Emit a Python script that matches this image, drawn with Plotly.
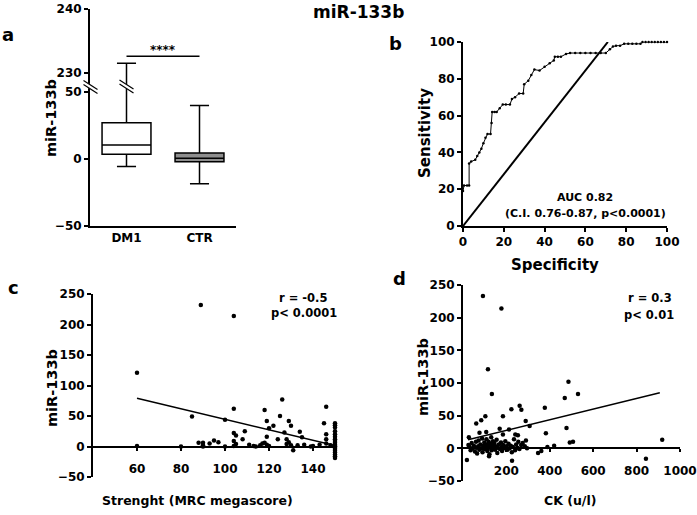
import plotly.graph_objects as go

W, H = 697, 515
FONT = "DejaVu Sans"

# ---------------- data ----------------
# panel a: box statistics (miR-133b)
a_cats = ["DM1", "CTR"]
dm1_stats = dict(lo=-5.5, q1=3.5, med=10.5, q3=27.0, hi=231.5)
ctr_stats = dict(lo=-18.5, q1=-2.0, med=0.5, q3=4.5, hi=40.0)

# panel b: ROC curve
roc_spec = [0, 0.5, 2, 3, 3, 4, 6, 7, 8, 9, 10, 11, 12, 13.5, 14, 14.3, 15.5, 16.5, 18, 19.5, 21,
            23, 24, 25.5, 27.5, 29.5, 30, 32, 33.5, 35, 37.5, 40, 42.5, 44.5, 45, 46.5, 48, 50.5,
            52.5, 55, 57.5, 60, 62.5, 65, 67.5, 70, 72, 73.5, 75, 77, 79, 81, 83, 85, 87, 88,
            89.5, 91, 92.5, 94, 95.5, 97, 98.5, 100]
roc_sens = [19, 22, 22, 22, 34, 35, 36, 38, 40, 42, 45, 48, 50, 50, 56, 62, 62, 62, 64, 66, 66,
            66, 69, 70, 72, 72, 77, 79, 82, 85, 84.5, 86.5, 88.5, 90, 92, 92, 92, 93.5,
            94, 94, 94, 94, 94, 94, 94, 94, 96, 97.5, 98, 98, 99, 99, 99, 99, 99, 100,
            100, 100, 100, 100, 100, 100, 100, 100]
diag_spec = [0, 71]
diag_sens = [0, 100]

# panel c: strength vs miR-133b
c_mrc = [89, 104, 60, 60, 85, 100, 104, 104, 105, 104, 105, 104, 80, 88, 90, 90, 90, 93, 95, 97,
         100, 108, 109, 111, 113, 114, 116, 117, 118, 119, 120, 119, 118, 119, 120, 122, 124, 125,
         126, 127, 128, 128, 129, 130, 129, 130, 131, 133, 134, 135, 136, 139, 140, 143, 146, 145,
         146, 146, 146, 148,
         150, 150, 150, 150, 150, 150, 150, 150, 150, 150, 150, 150, 150, 150, 150, 150, 150, 150, 150]
c_mir = [232, 214, 121, 1, 49, 44, 62, 22, 18, 9, 4, 1, 0, 6, 6, 0, 2, 5, 10, 7,
         0, 12, 25, 3, 1, 0, 2, 5, 60, 42, 30, 16, 6, 3, 1, 34, 12, 50,
         77, 23, 4, 12, 42, 34, 7, 2, -6, 2, 24, 15, 3, 0, 1, 3, 65, 38,
         20, 12, 5, 2,
         38, 35, 31, 25, 20, 16, 12, 9, 6, 3, 1, 0, -2, -4, -7, -10, -13, -16, -19]
c_fit_x = [60, 150]
c_fit_y = [79, 1.5]

# panel d: CK vs miR-133b
d_ck = [92, 177, 115, 133, 486, 530, 469, 377, 477, 382, 492, 507, 918, 843, 346, 361, 389, 420,
        226, 18, 261, 269, 223, 184, 103, 84, 61, 289, 307, 169, 212, 76, 107, 184, 241, 253, 27,
        120,
        25, 30, 35, 40, 45, 50, 55, 60, 62, 65, 70, 72, 75, 80, 85, 88, 90, 95, 98, 100, 105, 108,
        110, 112, 115, 118, 120, 122, 125, 128, 130, 132, 135, 138, 140, 145, 148, 150, 155, 158,
        160, 165, 170, 175, 178, 180, 185, 190, 195, 200, 205, 210, 215, 220, 225, 230, 235, 240,
        245, 250, 255, 260, 268, 275, 285, 290, 295]
d_mir = [233, 214, 121, 83, 102, 83, 77, 62, 31, 23, 9, 10, 13, -16, -7, -4, 2, 4,
         -19, -18, 65, 59, 60, 49, 49, 43, 38, 42, 34, 30, 29, 24, 25, 21, 21, 20, 17,
         -12,
         5, 2, -3, 8, 0, 4, -5, 10, 1, -8, 3, 12, -2, 6, 0, 15, -6, 4, 9, -1, 2, 14,
         6, -4, 0, 10, 3, -9, 7, 1, 17, -3, 5, 11, 0, 8, -2, 3, 13, -7,
         1, 6, -1, 9, 2, -4, 5, 0, 11, 3, -2, 7, 0, 4, -6, 2, 14, -3,
         6, 1, 10, -1, 5, 8, 3, 12, 0]
d_fit_x = [23, 907]
d_fit_y = [13, 85]

# ---------------- helpers ----------------
def fx(px):
    return px / W


def fy(py):
    return 1 - py / H


def bfont(size):
    return dict(family=FONT, size=size, color="black", weight="bold")


fig = go.Figure()

# ---------------- panel a ----------------
for xa, ya in [("x", "y"), ("x2", "y2")]:
    for pos, st, fill in [(0, dm1_stats, "white"), (1, ctr_stats, "#8e8e8e")]:
        fig.add_trace(go.Box(
            x=[pos], q1=[st["q1"]], median=[st["med"]], q3=[st["q3"]],
            lowerfence=[st["lo"]], upperfence=[st["hi"]],
            orientation="v", boxpoints=False, width=0.67, whiskerwidth=0.39,
            fillcolor=fill, line=dict(color="black", width=1.5),
            xaxis=xa, yaxis=ya, showlegend=False, hoverinfo="skip"))

# ---------------- panel b ----------------
fig.add_trace(go.Scatter(x=roc_spec, y=roc_sens, mode="lines+markers",
                         line=dict(color="black", width=1), marker=dict(size=2.5, color="black"),
                         xaxis="x3", yaxis="y3", showlegend=False, cliponaxis=False))
fig.add_trace(go.Scatter(x=diag_spec, y=diag_sens, mode="lines",
                         line=dict(color="black", width=2),
                         xaxis="x3", yaxis="y3", showlegend=False, cliponaxis=False))

# ---------------- panel c ----------------
fig.add_trace(go.Scatter(x=c_mrc, y=c_mir, mode="markers", marker=dict(size=4.5, color="black"),
                         xaxis="x4", yaxis="y4", showlegend=False, cliponaxis=False))
fig.add_trace(go.Scatter(x=c_fit_x, y=c_fit_y, mode="lines", line=dict(color="black", width=1.5),
                         xaxis="x4", yaxis="y4", showlegend=False))

# ---------------- panel d ----------------
fig.add_trace(go.Scatter(x=d_ck, y=d_mir, mode="markers", marker=dict(size=4.5, color="black"),
                         xaxis="x5", yaxis="y5", showlegend=False, cliponaxis=False))
fig.add_trace(go.Scatter(x=d_fit_x, y=d_fit_y, mode="lines", line=dict(color="black", width=1.5),
                         xaxis="x5", yaxis="y5", showlegend=False))

ax = dict(showgrid=False, zeroline=False, showline=True, linecolor="black", linewidth=2,
          ticks="outside", ticklen=4, tickwidth=1.5, tickcolor="black", tickfont=bfont(12),
          automargin=False)

ya_dom = [fy(226), fy(88)]
yc_dom = [fy(477), fy(294)]
yd_dom = [fy(481), fy(285)]
c_yr = [-50, 250]
d_yr = [-50, 250]


def zero_pos(dom, rng):
    return dom[0] + (0 - rng[0]) / (rng[1] - rng[0]) * (dom[1] - dom[0])


fig.update_layout(
    width=W, height=H, autosize=False,
    margin=dict(l=0, r=0, t=0, b=0, pad=0, autoexpand=False),
    paper_bgcolor="white", plot_bgcolor="white", font=bfont(12), showlegend=False,
    xaxis=dict(ax, domain=[fx(90), fx(236)], range=[-0.5, 1.5], anchor="y",
               tickvals=[0, 1], ticktext=a_cats, ticks="", tickfont=bfont(12)),
    yaxis=dict(ax, domain=ya_dom, range=[-50, 53], anchor="x", tickvals=[-50, 0, 50]),
    xaxis2=dict(domain=[fx(90), fx(236)], range=[-0.5, 1.5], anchor="y2", visible=False,
                automargin=False),
    yaxis2=dict(ax, domain=[fy(85), fy(9)], range=[228.1, 240], anchor="x2", tickvals=[230, 240]),
    xaxis3=dict(ax, domain=[fx(463), fx(667)], range=[0, 100], anchor="y3", dtick=20),
    yaxis3=dict(ax, domain=[fy(226), fy(42)], range=[0, 100], anchor="x3", dtick=20),
    xaxis4=dict(ax, domain=[fx(93), fx(335)], range=[40, 150], anchor="free",
                position=zero_pos(yc_dom, c_yr), tickvals=[60, 80, 100, 120, 140],
                ticklen=3, ticklabelstandoff=8),
    yaxis4=dict(ax, domain=yc_dom, range=c_yr, anchor="x4", dtick=50),
    xaxis5=dict(ax, domain=[fx(463), fx(680)], range=[0, 1000], anchor="free",
                position=zero_pos(yd_dom, d_yr), tickvals=[200, 400, 600, 800, 1000],
                ticklen=3, ticklabelstandoff=8),
    yaxis5=dict(ax, domain=yd_dom, range=d_yr, anchor="x5", dtick=50),
)

# significance bar in panel a
fig.add_shape(type="line", xref="x2", yref="y2", x0=0, x1=1, y0=232.6, y1=232.6,
              line=dict(color="black", width=1.5))


# axis-break marks
def break_mark(cx, cy):
    hx, hy, off = 7, 4.5, 2
    fig.add_shape(type="line", xref="paper", yref="paper",
                  x0=fx(cx - hx), y0=fy(cy - hy), x1=fx(cx + hx), y1=fy(cy + hy),
                  line=dict(color="white", width=4))
    for o in (-off, off):
        fig.add_shape(type="line", xref="paper", yref="paper",
                      x0=fx(cx - hx), y0=fy(cy - hy + o), x1=fx(cx + hx), y1=fy(cy + hy + o),
                      line=dict(color="black", width=1.2))


break_mark(90.5, 87)
break_mark(126.5, 86.5)

# ---------------- text ----------------
def txt(t, px, py, size, angle=0, xa="center"):
    fig.add_annotation(text=t, x=fx(px), y=fy(py), xref="paper", yref="paper",
                       showarrow=False, font=bfont(size), textangle=angle,
                       xanchor=xa, yanchor="middle")


txt("miR-133b", 359, 12, 17)
txt("a", 8, 35, 18)
txt("b", 395, 43, 18)
txt("c", 13, 287, 18)
txt("d", 399, 278, 18)

fig.add_annotation(text="****", x=0.5, y=232.6, xref="x2", yref="y2", showarrow=False,
                   font=bfont(12), yanchor="bottom", yshift=-3)

txt("miR-133b", 51, 118, 14.5, -90)
txt("Sensitivity", 425, 133, 15, -90)
txt("Specificity", 555, 265, 15)
txt("AUC 0.82", 585, 197, 11)
txt("(C.I. 0.76-0.87, p<0.0001)", 585, 213, 11)

txt("miR-133b", 52, 388, 14.5, -90)
txt("Strenght (MRC megascore)", 197, 500, 12.5)
txt("r = -0.5", 303, 298, 11.5)
txt("p< 0.0001", 304, 313, 11.5)

txt("miR-133b", 423, 377, 14.5, -90)
txt("CK (u/l)", 570, 500, 12.5)
txt("r = 0.3", 650, 298, 11.5)
txt("p< 0.01", 649, 315, 11.5)

# the page body has a default 8px margin; remove it so the figure sits at the window origin
fig.write_html("out.html", config={"displayModeBar": False},
               post_script="document.body.style.margin='0px';")
